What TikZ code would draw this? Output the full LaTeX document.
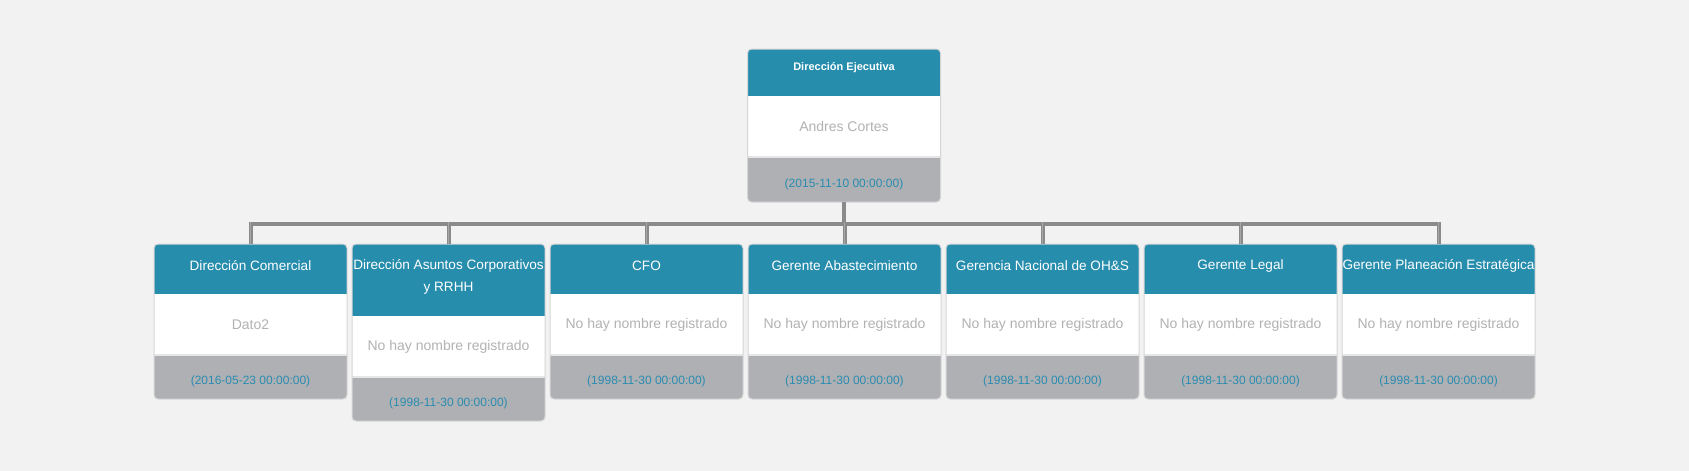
\documentclass[tikz,border=0pt]{standalone}
\usepackage{fontspec}
\setmainfont{Liberation Sans}
\usetikzlibrary{fit}
\definecolor{bg}{HTML}{F2F2F2}
\definecolor{headteal}{HTML}{268DAD}
\definecolor{footgray}{HTML}{AFB0B4}
\definecolor{namegray}{HTML}{B2B2B2}
\definecolor{datecol}{HTML}{2A8CB0}
\definecolor{bordergray}{HTML}{D6D6D6}
\definecolor{sepgray}{HTML}{E6E6E6}
\definecolor{linegray}{HTML}{8A8A8A}
\definecolor{linelight}{HTML}{A6A6A6}
\tikzset{
  conn/.style={draw=linegray, line width=4pt},
  connd/.style={draw=linegray, line width=1.5pt, double=linelight, double distance=1pt},
  hdr/.style={text=white, font=\fontsize{13.6}{22}\selectfont, align=center, inner sep=0pt},
  nm/.style={text=namegray, font=\fontsize{14}{16}\selectfont, inner sep=0pt},
  dt/.style={text=datecol, font=\fontsize{12}{14}\selectfont, inner sep=0pt},
  boxframe/.style={inner sep=0pt, draw=none},
  boxedge/.style={draw=bordergray, line width=1pt, rounded corners=4pt}
}
\def\hoff{-3}
% #1 name, #2 x, #3 top, #4 header bottom, #5 white bottom, #6 bottom, #7 header, #8 name, #9 date
\newcommand\orgbox[9]{%
  \begin{scope}
    \clip[rounded corners=4pt] (#2,#3) rectangle ({#2+193},#6);
    \fill[footgray] (#2,#3) rectangle ({#2+193},#6);
    \fill[headteal] (#2,#3) rectangle ({#2+193},#4);
    \fill[white] (#2,#4) rectangle ({#2+193},#5);
    \draw[sepgray, line width=1.5pt] (#2,#5) -- ({#2+193},#5);
  \end{scope}
  \draw[boxedge] (#2,#3) rectangle ({#2+193},#6);
  \coordinate (#1-nw) at (#2,#3);
  \coordinate (#1-se) at ({#2+193},#6);
  \node[boxframe, fit=(#1-nw)(#1-se)] (#1) {};
  \node[hdr] (#1-h) at ({#2+96.5},{(#3+#4)/2+\hoff}) {#7};
  \node[nm] (#1-n) at ({#2+96.5},{(#4+#5)/2}) {#8};
  \node[dt] (#1-d) at ({#2+96.5},{(#5+#6)/2+4.5}) {#9};
}
\begin{document}
\begin{tikzpicture}[x=1pt,y=-1pt]
\fill[bg] (0,0) rectangle (1689,471);
\useasboundingbox (0,0) rectangle (1689,471);

\def\hoff{-4.5}
\orgbox{top}{747.5}{49}{96}{157}{202}{\bfseries\fontsize{11}{13}\selectfont Dirección Ejecutiva}{Andres Cortes}{(2015-11-10 00:00:00)}
\def\hoff{-3}
\orgbox{c1}{154}{244}{294}{355}{399}{Dirección Comercial}{Dato2}{(2016-05-23 00:00:00)}
\orgbox{c2}{352}{244}{316}{377}{421}{Dirección Asuntos Corporativos\\y RRHH}{No hay nombre registrado}{(1998-11-30 00:00:00)}
\orgbox{c3}{550}{244}{294}{355}{399}{CFO}{No hay nombre registrado}{(1998-11-30 00:00:00)}
\orgbox{c4}{748}{244}{294}{355}{399}{Gerente Abastecimiento}{No hay nombre registrado}{(1998-11-30 00:00:00)}
\orgbox{c5}{946}{244}{294}{355}{399}{Gerencia Nacional de OH\&S}{No hay nombre registrado}{(1998-11-30 00:00:00)}
\orgbox{c6}{1144}{244}{294}{355}{399}{Gerente Legal}{No hay nombre registrado}{(1998-11-30 00:00:00)}
\orgbox{c7}{1342}{244}{294}{355}{399}{Gerente Planeación Estratégica}{No hay nombre registrado}{(1998-11-30 00:00:00)}

\coordinate (bus) at (844,224);
\draw[conn] (top.south) -- (top.south |- bus);
\draw[conn] ([xshift=-2pt]c1.north |- bus) -- ([xshift=2pt]c7.north |- bus);
\foreach \c in {c1,c2,c3,c4,c5,c6,c7}{
  \draw[connd] ([yshift=2pt]\c.north |- bus) -- (\c.north);
}
\end{tikzpicture}
\end{document}
